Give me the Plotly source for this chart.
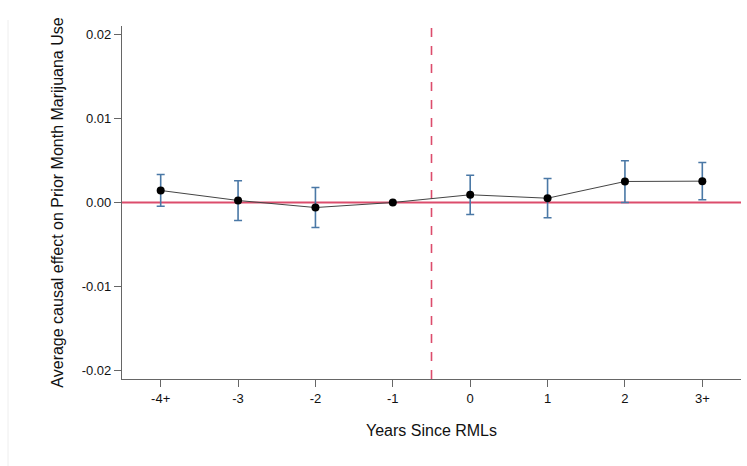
import plotly.graph_objects as go

categories = ["-4+", "-3", "-2", "-1", "0", "1", "2", "3+"]
estimates = [0.00143, 0.00024, -0.00060, 0.0, 0.00092, 0.00051, 0.00250, 0.00254]
ci_upper = [0.00333, 0.00258, 0.00179, 0.0, 0.00325, 0.00286, 0.00496, 0.00476]
ci_lower = [-0.00044, -0.00214, -0.00298, 0.0, -0.00143, -0.00182, 0.00000, 0.00032]
y_ticks = [0.02, 0.01, 0.0, -0.01, -0.02]
y_tick_labels = ["0.02", "0.01", "0.00", "-0.01", "-0.02"]

x = list(range(len(categories)))
err_plus = [u - e for u, e in zip(ci_upper, estimates)]
err_minus = [e - l for e, l in zip(estimates, ci_lower)]
has_ci = [u != l for u, l in zip(ci_upper, ci_lower)]

fig = go.Figure()

# zero reference line
fig.add_shape(type="line", xref="paper", yref="y", x0=0, x1=1, y0=0, y1=0,
              line=dict(color="#DC4C6C", width=1.8), layer="below")
# treatment line between -1 and 0
fig.add_shape(type="line", xref="x", yref="paper", x0=3.5, x1=3.5, y0=0, y1=1,
              line=dict(color="#DC4C6C", width=1.6, dash="dash"), layer="below")

# error bars
fig.add_trace(go.Scatter(
    x=[xi for xi, h in zip(x, has_ci) if h],
    y=[e for e, h in zip(estimates, has_ci) if h],
    mode="markers",
    marker=dict(size=0, opacity=0),
    error_y=dict(type="data", symmetric=False,
                 array=[p for p, h in zip(err_plus, has_ci) if h],
                 arrayminus=[m for m, h in zip(err_minus, has_ci) if h],
                 color="#4A78A6", thickness=1.6, width=4),
    showlegend=False, hoverinfo="skip"))

# point estimates
fig.add_trace(go.Scatter(
    x=x, y=estimates, mode="lines+markers",
    line=dict(color="#444444", width=1),
    marker=dict(color="black", size=8),
    showlegend=False))

# faint screenshot border at left
fig.add_shape(type="line", xref="paper", yref="paper",
              x0=(8 - 122) / 619, x1=(8 - 122) / 619, y0=(379 - 466) / 353, y1=(379 - 20) / 353,
              line=dict(color="#EEEEEE", width=1))

fig.update_layout(
    width=747, height=466,
    margin=dict(l=122, r=6, t=26, b=87),
    paper_bgcolor="white", plot_bgcolor="white",
    font=dict(family="Liberation Sans, Arial, sans-serif", color="#111111", size=13),
    xaxis=dict(
        range=[-0.5, 7.5], tickmode="array", tickvals=x, ticktext=categories,
        showgrid=False, zeroline=False, showline=True, linecolor="#666666", linewidth=1.2,
        ticks="outside", ticklen=7, tickcolor="#666666", tickwidth=1,
        tickfont=dict(size=13),
        title=dict(text="Years Since RMLs", font=dict(size=16), standoff=20)),
    yaxis=dict(
        range=[-0.021, 0.021], tickmode="array", tickvals=y_ticks, ticktext=y_tick_labels,
        showgrid=False, zeroline=False, showline=True, linecolor="#666666", linewidth=1.2,
        ticks="outside", ticklen=7, tickcolor="#666666", tickwidth=1,
        tickfont=dict(size=13),
        title=dict(text="Average causal effect on Prior Month Marijuana Use",
                   font=dict(size=16), standoff=14)),
)

fig.write_html("out.html")
